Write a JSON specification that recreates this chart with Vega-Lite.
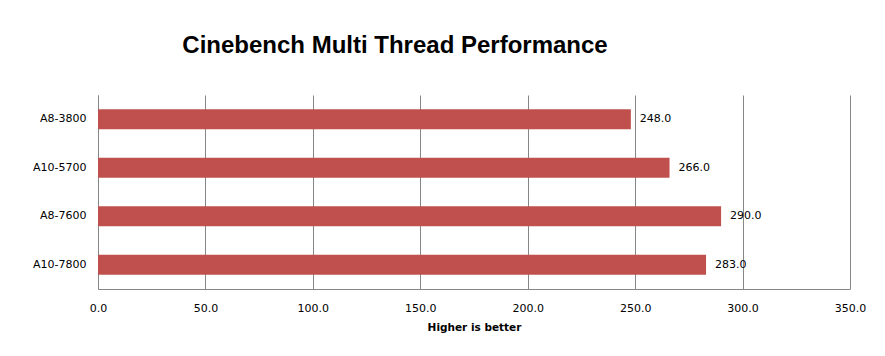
{
  "$schema": "https://vega.github.io/schema/vega-lite/v6.json",
  "width": 752,
  "height": 194,
  "autosize": {"type": "none"},
  "padding": {"left": 98, "top": 95, "right": 35, "bottom": 67},
  "background": "white",
  "config": {"view": {"stroke": null}, "font": "DejaVu Sans"},
  "title": {
    "text": "Cinebench Multi Thread Performance",
    "font": "Liberation Sans",
    "fontSize": 24,
    "fontWeight": "bold",
    "color": "#000000",
    "anchor": "middle",
    "dx": -79,
    "offset": 37
  },
  "data": {
    "values": [
      {"cpu": "A8-3800", "score": 248.0},
      {"cpu": "A10-5700", "score": 266.0},
      {"cpu": "A8-7600", "score": 290.0},
      {"cpu": "A10-7800", "score": 283.0}
    ]
  },
  "encoding": {
    "y": {
      "field": "cpu",
      "type": "nominal",
      "sort": null,
      "scale": {"paddingInner": 0.59, "paddingOuter": 0.295},
      "axis": {
        "title": null,
        "ticks": false,
        "domainColor": "#868686",
        "labelFont": "DejaVu Sans",
        "labelFontSize": 11,
        "labelColor": "#000000",
        "labelPadding": 12
      }
    },
    "x": {
      "field": "score",
      "type": "quantitative",
      "scale": {"domain": [0, 350], "nice": false},
      "axis": {
        "values": [0, 50, 100, 150, 200, 250, 300, 350],
        "format": ".1f",
        "title": "Higher is better",
        "titleFont": "DejaVu Sans",
        "titleFontSize": 10.5,
        "titleFontWeight": "bold",
        "titleColor": "#000000",
        "titlePadding": 9,
        "ticks": false,
        "grid": true,
        "gridColor": "#868686",
        "domainColor": "#868686",
        "labelFont": "DejaVu Sans",
        "labelFontSize": 11,
        "labelColor": "#000000",
        "labelFlush": false,
        "labelPadding": 13
      }
    }
  },
  "layer": [
    {"mark": {"type": "bar", "color": "#C0504D"}},
    {
      "mark": {"type": "text", "align": "left", "dx": 9, "fontSize": 11, "font": "DejaVu Sans", "color": "#000000"},
      "encoding": {"text": {"field": "score", "type": "quantitative", "format": ".1f"}}
    }
  ]
}
